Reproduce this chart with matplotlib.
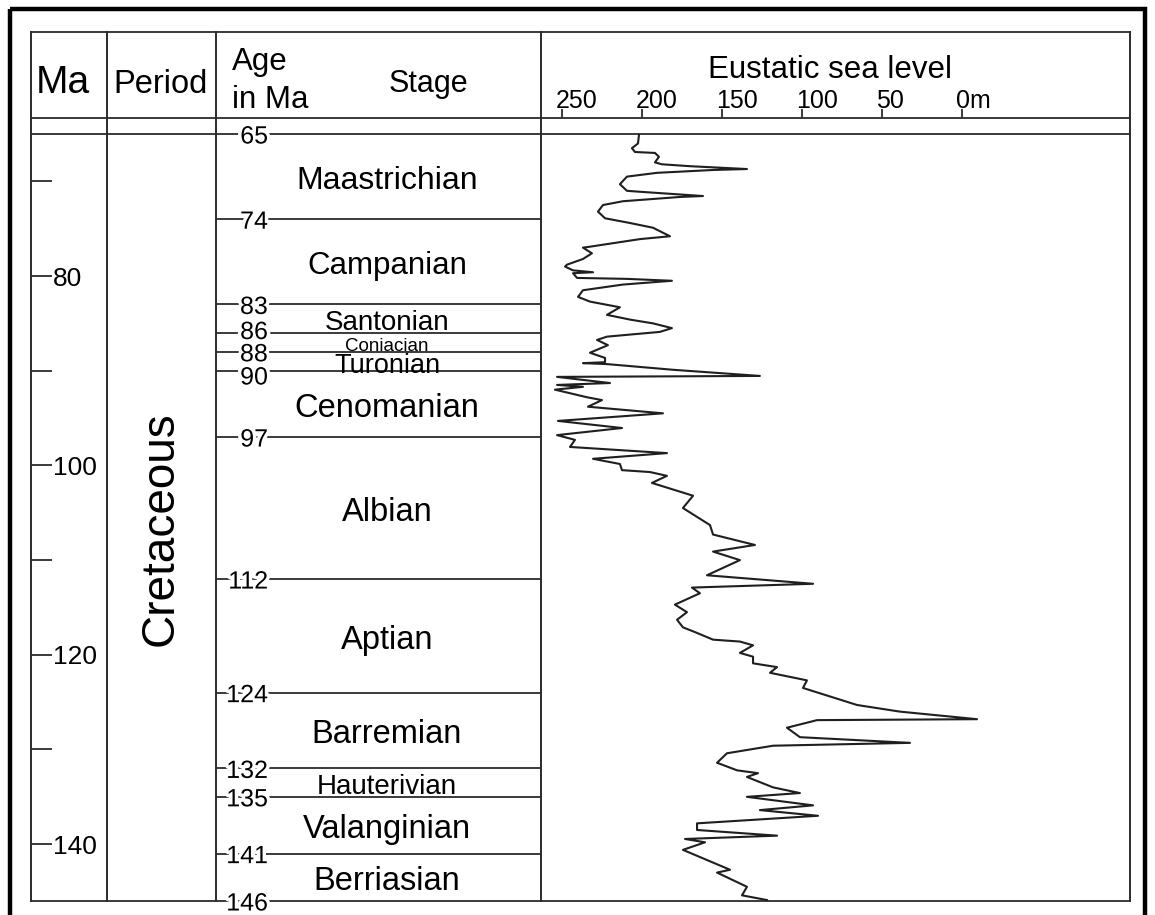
import matplotlib
matplotlib.use("Agg")
import matplotlib.pyplot as plt
from matplotlib.patches import Rectangle
from matplotlib.transforms import offset_copy
import matplotlib.patheffects as pe

plt.rcParams['font.family'] = ['Liberation Sans', 'DejaVu Sans']

# stage boundaries (Ma) and stage names
stage_bounds = [65, 74, 83, 86, 88, 90, 97, 112, 124, 132, 135, 141, 146]
stage_names = ['Maastrichian', 'Campanian', 'Santonian', 'Coniacian', 'Turonian',
               'Cenomanian', 'Albian', 'Aptian', 'Barremian', 'Hauterivian',
               'Valanginian', 'Berriasian']

# Ma column ticks
ma_ticks = [70, 80, 90, 100, 110, 120, 130, 140]
ma_labels = [80, 100, 120, 140]

# eustatic sea level scale
sl_ticks = [250, 200, 150, 100, 50, 0]
sl_ticklabels = ['250', '200', '150', '100', '50', '0m']

# sea level curve (age in Ma, level in m on the chart scale)
curve_age = [65.1, 66.0, 66.5, 66.9, 67.0, 67.4, 68.0, 68.2, 68.4, 68.7,
             68.8, 69.1, 69.5, 70.3, 71.0, 71.1, 71.55, 71.65, 72.1, 72.5,
             73.2, 73.9, 74.4, 74.9, 75.8, 76.1, 76.9, 77.0, 77.6, 78.2,
             78.8, 79.0, 79.4, 79.6, 79.7, 80.2, 80.3, 80.5, 80.9, 81.5,
             82.2, 82.7, 83.3, 84.1, 84.6, 85.0, 85.5, 85.9, 86.4, 86.75,
             87.3, 88.1, 88.65, 89.1, 89.2, 89.3, 89.9, 90.55, 90.65, 91.3,
             91.5, 91.7, 92.0, 92.8, 93.1, 93.8, 94.5, 95.3, 96.05, 96.8,
             97.3, 98.05, 98.7, 99.3, 99.85, 100.5, 100.7, 101.1, 101.85, 103.2,
             104.5, 106.3, 107.3, 108.4, 109.1, 110.0, 111.6, 112.5, 112.9, 113.5,
             114.7, 115.5, 116.3, 117.1, 117.6, 118.4, 118.6, 119.0, 119.8, 120.2,
             120.9, 121.3, 121.9, 122.7, 123.5, 125.3, 126.0, 126.8, 126.9, 127.7,
             128.7, 129.3, 129.6, 130.4, 131.4, 132.2, 132.5, 132.9, 134.0, 134.6,
             135.0, 135.9, 136.4, 137.0, 137.8, 138.5, 139.1, 139.45, 139.8, 140.6,
             142.7, 143.0, 144.5, 145.4, 145.9]
curve_level = [201.9, 202.5, 206.3, 204.4, 191.9, 189.4, 191.9, 187.5, 170.0, 134.4,
               155.6, 190.6, 209.4, 213.8, 209.4, 201.3, 161.9, 176.3, 211.9, 224.4,
               227.5, 223.1, 207.5, 193.1, 182.5, 201.3, 232.5, 236.9, 231.3, 236.9,
               246.9, 248.1, 243.1, 230.6, 243.1, 240.6, 209.4, 181.3, 211.9, 236.9,
               240.0, 232.5, 213.8, 221.9, 207.5, 193.1, 181.3, 188.8, 221.9, 228.1,
               221.3, 232.5, 223.1, 223.1, 236.9, 221.9, 180.6, 126.3, 253.1, 220.0,
               253.1, 236.9, 254.4, 234.4, 225.0, 233.8, 186.9, 252.5, 212.5, 253.1,
               241.9, 245.0, 184.4, 230.6, 213.8, 212.5, 195.0, 184.4, 193.8, 168.1,
               174.4, 157.5, 155.6, 129.4, 155.6, 138.8, 159.4, 93.1, 168.8, 163.8,
               179.4, 171.9, 178.1, 174.4, 166.9, 155.6, 138.8, 130.6, 138.8, 130.6,
               130.6, 115.6, 120.0, 96.9, 99.4, 65.6, 38.8, -9.4, 90.6, 109.4,
               101.3, 32.5, 118.1, 146.9, 153.1, 140.6, 127.5, 134.4, 118.1, 101.3,
               134.4, 93.1, 126.3, 90.0, 165.6, 165.6, 115.6, 173.1, 160.6, 174.4,
               145.0, 153.1, 134.4, 137.5, 121.9]

# layout in pixels
W, H = 1155, 915
X_LEFT, X_MA, X_PER, X_AGE, X_RIGHT = 31, 107, 216, 541, 1130
Y_TOP, Y_HEAD, Y_BODY, Y_BOT = 32, 118, 134, 901
SL_250_PX, SL_0_PX = 562, 962
LINE_C = '#2b2b2b'
stage_fs = [23, 22.5, 20, 13.5, 19.5, 23.5, 23.5, 23.5, 23.5, 20, 23.5, 23.5]
# small vertical nudges of the crowded boundary labels (Ma)
label_nudge = {86: -0.35, 90: 0.45}


def fx(px):
    return px / W


def fy(py):
    return 1 - py / H


fig = plt.figure(figsize=(W / 100, H / 100), dpi=100)

# background axes in pixel units: frame, table rules, header text
ax_bg = fig.add_axes([0, 0, 1, 1])
ax_bg.set_xlim(0, W)
ax_bg.set_ylim(H, 0)
ax_bg.axis('off')

ax_bg.add_patch(Rectangle((10, 9), 1135, 940, fill=False, lw=3.2,
                          edgecolor='black', clip_on=True))
for y in (Y_TOP, Y_HEAD, Y_BODY, Y_BOT):
    ax_bg.plot([X_LEFT, X_RIGHT], [y, y], color=LINE_C, lw=1.3)
for x in (X_LEFT, X_MA, X_PER, X_AGE, X_RIGHT):
    ax_bg.plot([x, x], [Y_TOP, Y_BOT], color=LINE_C, lw=1.4)

ax_bg.text(63, 93, 'Ma', ha='center', va='baseline', fontsize=28)
ax_bg.text(161, 93, 'Period', ha='center', va='baseline', fontsize=23.5)
ax_bg.text(232, 70, 'Age', ha='left', va='baseline', fontsize=22.5)
ax_bg.text(232, 108, 'in Ma', ha='left', va='baseline', fontsize=22.5)
ax_bg.text(428, 92, 'Stage', ha='center', va='baseline', fontsize=22)
ax_bg.text(830, 78, 'Eustatic sea level', ha='center', va='baseline', fontsize=22.5)
ax_bg.text(161, 529, 'Cretaceous', ha='center', va='center', rotation=90,
           fontsize=33)

# table body: age scale (Ma downwards)
ax_tab = fig.add_axes([fx(X_LEFT), fy(Y_BOT), fx(X_RIGHT) - fx(X_LEFT),
                       fy(Y_BODY) - fy(Y_BOT)])
ax_tab.set_xlim(X_LEFT, X_RIGHT)
ax_tab.set_ylim(stage_bounds[-1], stage_bounds[0])
ax_tab.axis('off')
ax_tab.patch.set_alpha(0)

ax_tab.hlines(stage_bounds[1:-1], X_PER, X_AGE, color=LINE_C, lw=1.3)
white_halo = [pe.withStroke(linewidth=5, foreground='white')]
for b in stage_bounds:
    ax_tab.text(268, b + label_nudge.get(b, 0), str(b), ha='right',
                va='center_baseline', fontsize=18,
                path_effects=white_halo, zorder=4, clip_on=False)

for name, lo, hi, fs in zip(stage_names, stage_bounds[:-1], stage_bounds[1:], stage_fs):
    ax_tab.text(387, (lo + hi) / 2 + 0.45, name, ha='center', va='center',
                fontsize=fs, zorder=3)

ax_tab.hlines(ma_ticks, X_LEFT, 52, color=LINE_C, lw=1.3)
for m in ma_labels:
    ax_tab.text(53, m, str(m), ha='left', va='center_baseline', fontsize=19)

# sea level curve
ax_sl = fig.add_axes([fx(X_AGE), fy(Y_BOT), fx(X_RIGHT) - fx(X_AGE),
                      fy(Y_BODY) - fy(Y_BOT)])
px_per_m = (SL_0_PX - SL_250_PX) / 250
ax_sl.set_xlim((SL_0_PX - X_AGE) / px_per_m, -(X_RIGHT - SL_0_PX) / px_per_m)
ax_sl.set_ylim(stage_bounds[-1], stage_bounds[0])
ax_sl.axis('off')
ax_sl.patch.set_alpha(0)
ax_sl.plot(curve_level, curve_age, color='#1f1f1f', lw=1.5,
           solid_joinstyle='round')

# scale ticks sit in the header band above the body
span = Y_BOT - Y_BODY
tick_lo = (Y_BOT - Y_HEAD) / span
tick_hi = (Y_BOT - 109) / span
ax_sl.vlines(sl_ticks, tick_lo, tick_hi, transform=ax_sl.get_xaxis_transform(),
             color=LINE_C, lw=1.3, clip_on=False)
lab_trans = offset_copy(ax_sl.get_xaxis_transform(), fig=fig, x=-6, y=0, units='dots')
for v, lab in zip(sl_ticks, sl_ticklabels):
    ax_sl.text(v, (Y_BOT - 108) / span, lab, transform=lab_trans, ha='left',
               va='baseline', fontsize=18, clip_on=False)

fig.savefig('out.png', dpi=100)
